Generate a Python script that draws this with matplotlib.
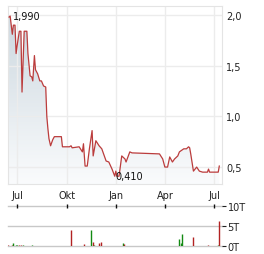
import numpy as np
import pandas as pd
import matplotlib
matplotlib.use("Agg")
import matplotlib.pyplot as plt
import matplotlib.dates as mdates

# price series
price_dates = [
    "2023-06-16", "2023-06-18", "2023-06-22", "2023-06-24", "2023-06-27", "2023-06-29",
    "2023-07-01", "2023-07-05", "2023-07-08", "2023-07-10", "2023-07-14", "2023-07-19",
    "2023-07-21", "2023-07-25", "2023-07-28", "2023-07-30", "2023-08-02", "2023-08-04",
    "2023-08-08", "2023-08-12", "2023-08-15", "2023-08-19", "2023-08-23", "2023-08-25",
    "2023-08-27", "2023-08-29", "2023-09-01", "2023-09-05", "2023-09-08", "2023-09-21",
    "2023-09-23", "2023-10-06", "2023-10-09", "2023-10-11", "2023-10-24", "2023-10-30",
    "2023-11-01", "2023-11-04", "2023-11-08", "2023-11-12", "2023-11-17", "2023-11-19",
    "2023-11-24", "2023-11-30", "2023-12-05", "2023-12-13", "2023-12-18", "2023-12-24",
    "2023-12-29", "2023-12-31", "2024-01-02", "2024-01-06", "2024-01-11", "2024-01-17",
    "2024-01-19", "2024-01-26", "2024-01-30", "2024-03-21", "2024-03-27", "2024-03-31",
    "2024-04-05", "2024-04-09", "2024-04-14", "2024-04-18", "2024-04-24", "2024-04-27",
    "2024-05-05", "2024-05-10", "2024-05-14", "2024-05-16", "2024-05-18", "2024-05-23",
    "2024-05-29", "2024-06-03", "2024-06-09", "2024-06-18", "2024-06-20", "2024-06-22",
    "2024-07-08", "2024-07-10",
]
price_values = [
    1.98, 1.99, 1.81, 1.90, 1.90, 1.62,
    1.70, 1.84, 1.84, 1.24, 1.84, 1.84,
    1.62, 1.40, 1.39, 1.35, 1.60, 1.46,
    1.42, 1.35, 1.35, 1.30, 1.29, 1.00,
    0.88, 0.78, 0.71, 0.77, 0.80, 0.80,
    0.70, 0.70, 0.71, 0.69, 0.70, 0.65,
    0.73, 0.51, 0.51, 0.68, 0.86, 0.61,
    0.76, 0.71, 0.68, 0.56, 0.55, 0.48,
    0.41, 0.46, 0.41, 0.41, 0.61, 0.58,
    0.55, 0.65, 0.64, 0.63, 0.58, 0.50,
    0.50, 0.60, 0.55, 0.58, 0.61, 0.65,
    0.68, 0.68, 0.70, 0.69, 0.63, 0.46,
    0.50, 0.46, 0.45, 0.45, 0.48, 0.45,
    0.45, 0.51,
]

# volume (thousands), up = green, down = red
vol_dates = [
    "2023-06-14", "2023-06-22", "2023-06-24", "2023-06-29", "2023-07-01", "2023-07-05",
    "2023-07-08", "2023-07-12", "2023-07-29", "2023-10-09", "2023-11-02", "2023-11-15",
    "2023-11-19", "2023-11-21", "2023-11-30", "2023-12-04", "2024-01-14", "2024-01-15",
    "2024-04-26", "2024-04-30", "2024-05-02", "2024-05-23", "2024-06-19", "2024-07-08",
    "2024-07-10",
]
vol_values = [
    0.3, 0.3, 0.8, 0.3, 0.3, 0.3,
    0.3, 0.3, 0.3, 4.1, 0.6, 4.1,
    1.0, 0.3, 0.7, 1.0, 0.8, 0.6,
    1.8, 0.8, 2.9, 2.3, 0.25, 0.3,
    6.3,
]
vol_up = [
    False, False, True, True, True, False,
    False, True, True, False, False, True,
    False, True, False, False, True, False,
    True, True, True, False, False, True,
    False,
]

month_ticks = ["2023-07-01", "2023-10-01", "2024-01-01", "2024-04-01", "2024-07-01"]
month_labels = ["Jul", "Okt", "Jan", "Apr", "Jul"]

x_start = mdates.date2num(pd.Timestamp("2023-06-14"))
x_end = mdates.date2num(pd.Timestamp("2024-07-15"))

W, H = 264, 255
fig = plt.figure(figsize=(W / 100, H / 100), dpi=100)

def box(l, t, r, b):
    return [l / W, 1 - b / H, (r - l) / W, (b - t) / H]

# price panel
ax = fig.add_axes(box(8, 7, 222, 185))
px = mdates.date2num(pd.to_datetime(price_dates))
py = np.array(price_values)

ylo, yhi = 0.333, 2.089
ax.set_xlim(x_start, x_end)
ax.set_ylim(ylo, yhi)

poly = ax.fill_between(px, py, ylo, color="none", lw=0)
grad = np.linspace(0, 1, 256).reshape(-1, 1)
top_c = np.array([0.80, 0.845, 0.875])
bot_c = np.array([0.98, 0.985, 0.99])
img = top_c * grad[..., None] + bot_c * (1 - grad[..., None])
im = ax.imshow(img, extent=[x_start, x_end, ylo, 2.0], origin="lower",
               aspect="auto", zorder=1)
im.set_clip_path(poly.get_paths()[0], transform=ax.transData)
ax.plot(px, py, color="#bb3c3c", lw=0.9, zorder=3)

ax.set_yticks([0.5, 1.0, 1.5, 2.0])
ax.set_yticklabels(["0,5", "1,0", "1,5", "2,0"])
ax.yaxis.tick_right()
ax.set_xticks(mdates.date2num(pd.to_datetime(month_ticks)))
ax.set_xticklabels(month_labels)
ax.tick_params(length=0, labelsize=7, colors="#222222", pad=3)
ax.tick_params(axis="x", pad=4)
ax.grid(True, color="#ececec", lw=1, zorder=0)
for s in ax.spines.values():
    s.set_color("#e4e4e4")
    s.set_linewidth(0.8)

ax.text(px[1] + 5, 1.99, "1,990", fontsize=7, va="center", ha="left",
        color="#111111", zorder=4)
ax.text(px[48] + 2, 0.41, "0,410", fontsize=7, va="center", ha="left",
        color="#111111", zorder=4)

# volume panel
av = fig.add_axes(box(8, 207, 222, 247))
vx = mdates.date2num(pd.to_datetime(vol_dates))
vcol = ["#138a13" if u else "#b22222" for u in vol_up]
av.set_xlim(x_start, x_end)
av.set_ylim(0, 10)
for h in [0, 5, 10]:
    av.axhline(h, color="#c8c8c8", lw=1.0, zorder=1, clip_on=False)
av.vlines(vx, 0, vol_values, colors=vcol, lw=1.0, zorder=3)
av.set_yticks([0, 5, 10])
av.set_yticklabels(["0T", "5T", "10T"])
av.yaxis.tick_right()
av.tick_params(axis="y", length=3, width=0.8, pad=1, labelsize=7,
               colors="#222222")
av.set_xticks(mdates.date2num(pd.to_datetime(month_ticks)))
av.xaxis.tick_top()
av.tick_params(axis="x", direction="inout", length=3, width=1,
               labeltop=False, colors="#111111")
for s in av.spines.values():
    s.set_visible(False)

fig.savefig("out.png", dpi=100)
